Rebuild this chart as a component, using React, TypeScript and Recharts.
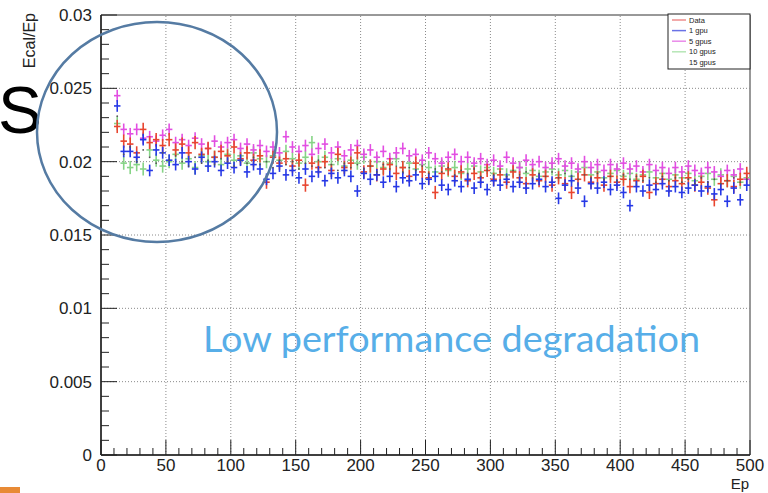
import React from 'react';
import { ScatterChart, Scatter, XAxis, YAxis, ErrorBar, ReferenceLine, ReferenceArea } from 'recharts';

// Bin centres (Ep)
const EP = [
  12.5, 17.5, 22.5, 27.5, 32.5, 37.5, 42.5, 47.5, 52.5, 57.5,
  62.5, 67.5, 72.5, 77.5, 82.5, 87.5, 92.5, 97.5, 102.5, 107.5,
  112.5, 117.5, 122.5, 127.5, 132.5, 137.5, 142.5, 147.5, 152.5, 157.5,
  162.5, 167.5, 172.5, 177.5, 182.5, 187.5, 192.5, 197.5, 202.5, 207.5,
  212.5, 217.5, 222.5, 227.5, 232.5, 237.5, 242.5, 247.5, 252.5, 257.5,
  262.5, 267.5, 272.5, 277.5, 282.5, 287.5, 292.5, 297.5, 302.5, 307.5,
  312.5, 317.5, 322.5, 327.5, 332.5, 337.5, 342.5, 347.5, 352.5, 357.5,
  362.5, 367.5, 372.5, 377.5, 382.5, 387.5, 392.5, 397.5, 402.5, 407.5,
  412.5, 417.5, 422.5, 427.5, 432.5, 437.5, 442.5, 447.5, 452.5, 457.5,
  462.5, 467.5, 472.5, 477.5, 482.5, 487.5, 492.5, 497.5,
];

const DATA_VALS = [
  0.0224, 0.0214, 0.0212, 0.0206, 0.0222, 0.0213, 0.0215, 0.0211, 0.0215, 0.0208,
  0.0212, 0.0206, 0.0213, 0.0205, 0.0209, 0.0203, 0.0207, 0.0204, 0.0210, 0.0202,
  0.0206, 0.0201, 0.0204, 0.0186, 0.0203, 0.0199, 0.0202, 0.0197, 0.0201, 0.0184,
  0.0199, 0.0196, 0.0200, 0.0194, 0.0205, 0.0196, 0.0199, 0.0206, 0.0193, 0.0197,
  0.0191, 0.0195, 0.0198, 0.0192, 0.0196, 0.0190, 0.0199, 0.0193, 0.0189, 0.0179,
  0.0192, 0.0195, 0.0190, 0.0193, 0.0187, 0.0192, 0.0189, 0.0194, 0.0188, 0.0191,
  0.0186, 0.0193, 0.0189, 0.0185, 0.0191, 0.0187, 0.0190, 0.0184, 0.0189, 0.0185,
  0.0179, 0.0188, 0.0191, 0.0186, 0.0189, 0.0184, 0.0190, 0.0186, 0.0188, 0.0183,
  0.0187, 0.0190, 0.0179, 0.0185, 0.0188, 0.0183, 0.0187, 0.0185, 0.0189, 0.0184,
  0.0186, 0.0182, 0.0174, 0.0185, 0.0187, 0.0183, 0.0188, 0.0192,
];

const GPU1_VALS = [
  0.0238, 0.0207, 0.0207, 0.0203, 0.0215, 0.0194, 0.0208, 0.0206, 0.0201, 0.0198,
  0.0206, 0.0200, 0.0195, 0.0203, 0.0197, 0.0200, 0.0194, 0.0199, 0.0196, 0.0201,
  0.0193, 0.0198, 0.0195, 0.0188, 0.0192, 0.0197, 0.0191, 0.0194, 0.0189, 0.0195,
  0.0190, 0.0193, 0.0187, 0.0192, 0.0189, 0.0194, 0.0190, 0.0180, 0.0192, 0.0188,
  0.0191, 0.0186, 0.0190, 0.0183, 0.0189, 0.0187, 0.0191, 0.0185, 0.0188, 0.0190,
  0.0184, 0.0181, 0.0187, 0.0183, 0.0188, 0.0182, 0.0186, 0.0181, 0.0187, 0.0184,
  0.0188, 0.0183, 0.0186, 0.0182, 0.0185, 0.0188, 0.0183, 0.0186, 0.0175, 0.0184,
  0.0187, 0.0182, 0.0173, 0.0185, 0.0182, 0.0186, 0.0181, 0.0184, 0.0179, 0.0170,
  0.0183, 0.0180, 0.0184, 0.0181, 0.0185, 0.0180, 0.0183, 0.0179, 0.0182, 0.0184,
  0.0180, 0.0183, 0.0178, 0.0181, 0.0173, 0.0182, 0.0174, 0.0184,
];

const GPU5_VALS = [
  0.0245, 0.0222, 0.0219, 0.0222, 0.0216, 0.0217, 0.0214, 0.0218, 0.0222, 0.0213,
  0.0215, 0.0211, 0.0216, 0.0212, 0.0209, 0.0214, 0.0210, 0.0213, 0.0215, 0.0209,
  0.0212, 0.0208, 0.0211, 0.0207, 0.0210, 0.0206, 0.0217, 0.0210, 0.0207, 0.0211,
  0.0205, 0.0209, 0.0212, 0.0206, 0.0210, 0.0204, 0.0208, 0.0211, 0.0205, 0.0208,
  0.0203, 0.0207, 0.0202, 0.0206, 0.0209, 0.0204, 0.0205, 0.0201, 0.0206, 0.0202,
  0.0199, 0.0203, 0.0205, 0.0200, 0.0203, 0.0199, 0.0202, 0.0198, 0.0201, 0.0197,
  0.0203, 0.0199, 0.0196, 0.0201, 0.0198, 0.0200, 0.0196, 0.0199, 0.0202, 0.0197,
  0.0199, 0.0195, 0.0200, 0.0196, 0.0198, 0.0194, 0.0198, 0.0195, 0.0199, 0.0195,
  0.0197, 0.0193, 0.0198, 0.0194, 0.0196, 0.0192, 0.0196, 0.0193, 0.0197, 0.0194,
  0.0192, 0.0196, 0.0193, 0.0190, 0.0194, 0.0191, 0.0195, 0.0188,
];

const GPU10_VALS = [
  0.0226, 0.0199, 0.0196, 0.0198, 0.0195, 0.0208, 0.0201, 0.0197, 0.0200, 0.0205,
  0.0199, 0.0202, 0.0196, 0.0204, 0.0200, 0.0203, 0.0198, 0.0205, 0.0201, 0.0204,
  0.0199, 0.0206, 0.0202, 0.0200, 0.0204, 0.0201, 0.0207, 0.0202, 0.0199, 0.0203,
  0.0213, 0.0200, 0.0203, 0.0198, 0.0202, 0.0197, 0.0201, 0.0199, 0.0203, 0.0197,
  0.0200, 0.0196, 0.0199, 0.0202, 0.0196, 0.0199, 0.0195, 0.0198, 0.0196, 0.0193,
  0.0197, 0.0194, 0.0196, 0.0192, 0.0195, 0.0197, 0.0193, 0.0196, 0.0192, 0.0195,
  0.0191, 0.0194, 0.0196, 0.0192, 0.0194, 0.0190, 0.0193, 0.0195, 0.0191, 0.0194,
  0.0190, 0.0193, 0.0196, 0.0191, 0.0193, 0.0189, 0.0192, 0.0194, 0.0190, 0.0192,
  0.0188, 0.0191, 0.0193, 0.0189, 0.0192, 0.0188, 0.0191, 0.0189, 0.0192, 0.0187,
  0.0190, 0.0192, 0.0188, 0.0191, 0.0187, 0.0190, 0.0186, 0.0189,
];

const GPU15_VALS = [
  0.0231, 0.0205, 0.0210, 0.0200, 0.0208, 0.0203, 0.0199, 0.0206, 0.0201, 0.0204,
  0.0200, 0.0197, 0.0203, 0.0199, 0.0201, 0.0198, 0.0202, 0.0200, 0.0197, 0.0201,
  0.0199, 0.0203, 0.0198, 0.0200, 0.0196, 0.0201, 0.0198, 0.0200, 0.0195, 0.0199,
  0.0197, 0.0201, 0.0196, 0.0198, 0.0194, 0.0199, 0.0196, 0.0198, 0.0195, 0.0197,
  0.0193, 0.0198, 0.0195, 0.0197, 0.0193, 0.0196, 0.0194, 0.0197, 0.0192, 0.0195,
  0.0193, 0.0196, 0.0191, 0.0194, 0.0192, 0.0195, 0.0190, 0.0194, 0.0191, 0.0193,
  0.0190, 0.0194, 0.0191, 0.0193, 0.0189, 0.0192, 0.0190, 0.0193, 0.0189, 0.0192,
  0.0190, 0.0188, 0.0191, 0.0189, 0.0192, 0.0188, 0.0190, 0.0187, 0.0191, 0.0188,
  0.0190, 0.0187, 0.0189, 0.0186, 0.0190, 0.0187, 0.0189, 0.0186, 0.0188, 0.0185,
  0.0189, 0.0186, 0.0188, 0.0185, 0.0187, 0.0189, 0.0186, 0.0188,
];

const BIN_HALF = 2.5;
const SERIES_NAMES = ['Data', '1 gpu', '5 gpus', '10 gpus', '15 gpus'];

const X_MAJOR = [0, 50, 100, 150, 200, 250, 300, 350, 400, 450, 500];
const X_LABELS = ['0', '50', '100', '150', '200', '250', '300', '350', '400', '450', '500'];
const Y_MAJOR = [0, 0.005, 0.01, 0.015, 0.02, 0.025, 0.03];
const Y_LABELS = ['0', '0.005', '0.01', '0.015', '0.02', '0.025', '0.03'];
const X_TICKS = Array.from({ length: 51 }, (_, i) => i * 10);
const Y_TICKS = Array.from({ length: 31 }, (_, i) => i / 1000);

const RED = '#e8452f';
const BLUE = '#2638e6';
const MAGENTA = '#e24ee2';
const GREEN = '#86d486';
const GREY = '#555555';
const FONT = '"Liberation Sans", Arial, Helvetica, sans-serif';

const rows = (vals: number[], ey: number) =>
  EP.map((x, i) => ({ x, y: vals[i], ex: BIN_HALF, ey }));

const XTick = (props: any) => {
  const { x, y, payload } = props;
  const idx = X_MAJOR.findIndex((v) => Math.abs(v - payload.value) < 1e-9);
  const major = idx >= 0;
  return (
    <g>
      <line x1={x} x2={x} y1={y} y2={y - (major ? 15 : 7)} stroke="#222" strokeWidth={1} />
      {major && (
        <text x={x} y={y + 16} textAnchor="middle" fontSize={17} fontFamily={FONT} fill="#222">
          {X_LABELS[idx]}
        </text>
      )}
    </g>
  );
};

const YTick = (props: any) => {
  const { x, y, payload } = props;
  const idx = Y_MAJOR.findIndex((v) => Math.abs(v - payload.value) < 1e-9);
  const major = idx >= 0;
  return (
    <g>
      <line x1={x} x2={x + (major ? 16 : 8)} y1={y} y2={y} stroke="#222" strokeWidth={1} />
      {major && (
        <text x={x - 9} y={y + 6} textAnchor="end" fontSize={17} fontFamily={FONT} fill="#222">
          {Y_LABELS[idx]}
        </text>
      )}
    </g>
  );
};

const EmptyShape = () => <g />;
const DotShape = (p: any) => <circle cx={p.cx} cy={p.cy} r={0.9} fill={GREY} />;

const LEGEND = [
  { name: SERIES_NAMES[0], color: '#ee8c8c' },
  { name: SERIES_NAMES[1], color: '#6a72e6' },
  { name: SERIES_NAMES[2], color: '#e98ae9' },
  { name: SERIES_NAMES[3], color: '#b6e6b6' },
  { name: SERIES_NAMES[4], color: 'none' },
];

export default function App() {
  const series = [
    { name: SERIES_NAMES[4], data: rows(GPU15_VALS, 0), color: GREY, dots: true },
    { name: SERIES_NAMES[3], data: rows(GPU10_VALS, 0.00045), color: GREEN, dots: false },
    { name: SERIES_NAMES[2], data: rows(GPU5_VALS, 0.0004), color: MAGENTA, dots: false },
    { name: SERIES_NAMES[0], data: rows(DATA_VALS, 0.00045), color: RED, dots: false },
    { name: SERIES_NAMES[1], data: rows(GPU1_VALS, 0.0004), color: BLUE, dots: false },
  ];
  return (
    <div style={{ position: 'absolute', left: 0, top: 0, width: 768, height: 493, background: '#fff' }}>
      <ScatterChart width={768} height={493} margin={{ top: 15, right: 18, bottom: 0, left: 0 }}>
        <XAxis
          type="number"
          dataKey="x"
          domain={[0, 500]}
          ticks={X_TICKS}
          interval={0}
          tickLine={false}
          tickSize={0}
          tickMargin={0}
          tick={<XTick />}
          height={38}
          axisLine={{ stroke: '#222', strokeWidth: 1.5 }}
          allowDataOverflow
        />
        <YAxis
          type="number"
          dataKey="y"
          domain={[0, 0.03]}
          ticks={Y_TICKS}
          interval={0}
          tickLine={false}
          tickSize={0}
          tickMargin={0}
          tick={<YTick />}
          width={101}
          axisLine={{ stroke: '#222', strokeWidth: 1.5 }}
          allowDataOverflow
        />
        {X_MAJOR.slice(1, -1).map((v) => (
          <ReferenceLine key={'gx' + v} x={v} stroke="#8a8a8a" strokeDasharray="1 2" />
        ))}
        {Y_MAJOR.slice(1, -1).map((v) => (
          <ReferenceLine key={'gy' + v} y={v} stroke="#8a8a8a" strokeDasharray="1 2" />
        ))}
        <ReferenceArea x1={0} x2={500} y1={0} y2={0.03} fill="none" fillOpacity={0} stroke="#333" strokeWidth={1} />
        {series.map((s) => (
          <Scatter
            key={s.name}
            name={s.name}
            data={s.data}
            dataKey="y"
            isAnimationActive={false}
            shape={s.dots ? DotShape : EmptyShape}
          >
            {!s.dots && (
              <ErrorBar dataKey="ex" direction="x" width={0} stroke={s.color} strokeWidth={1.6} isAnimationActive={false} />
            )}
            {!s.dots && (
              <ErrorBar dataKey="ey" direction="y" width={0} stroke={s.color} strokeWidth={1.6} isAnimationActive={false} />
            )}
          </Scatter>
        ))}
      </ScatterChart>
      <svg
        width={768}
        height={493}
        style={{ position: 'absolute', left: 0, top: 0, pointerEvents: 'none' }}
      >
        {/* legend */}
        <rect x={668} y={14} width={82} height={55} fill="#fff" stroke="#222" strokeWidth={1} />
        {LEGEND.map((l, i) => {
          const yy = 20 + i * 10.6;
          return (
            <g key={l.name}>
              {l.color !== 'none' && (
                <line x1={672} x2={686} y1={yy} y2={yy} stroke={l.color} strokeWidth={1.5} />
              )}
              <text x={689} y={yy + 2.6} fontSize={7.5} fontFamily={FONT} fill="#222">
                {l.name}
              </text>
            </g>
          );
        })}
        {/* axis titles */}
        <text
          transform="translate(35,13) rotate(-90)"
          textAnchor="end"
          fontSize={16}
          fontFamily={FONT}
          fill="#222"
        >
          Ecal/Ep
        </text>
        <text x={749} y={489} textAnchor="end" fontSize={15} fontFamily={FONT} fill="#222">
          Ep
        </text>
        {/* slide annotations */}
        <text x={-2} y={133} fontSize={66} fontFamily={FONT} fill="#000">
          S
        </text>
        <ellipse cx={157} cy={132} rx={120} ry={110} fill="none" stroke="#557ba3" strokeWidth={2.5} />
        <text
          x={203}
          y={352}
          fontSize={37}
          fontFamily='Lato, "Open Sans", sans-serif'
          fill="#57aee8"
          textLength={497}
          lengthAdjust="spacingAndGlyphs"
        >
          Low performance degradation
        </text>
        <rect x={0} y={487} width={20} height={6} fill="#e88a35" />
      </svg>
    </div>
  );
}
